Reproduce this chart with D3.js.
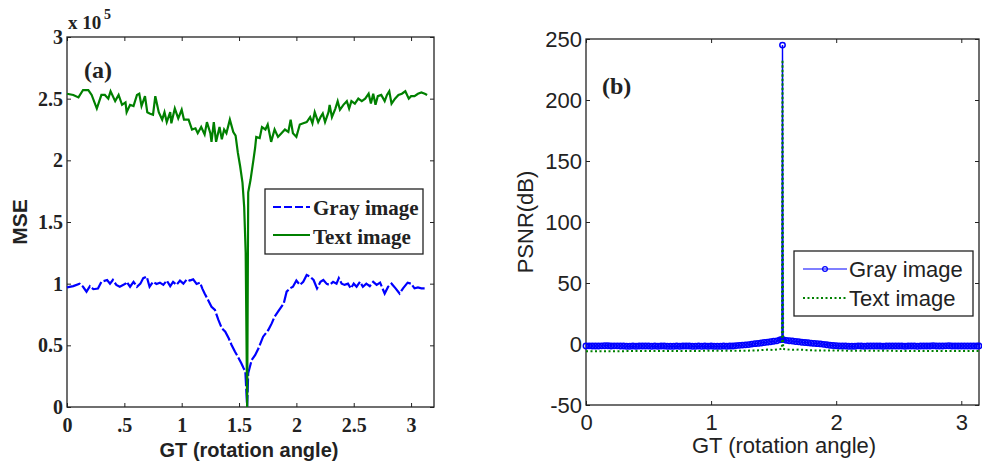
<!DOCTYPE html>
<html>
<head>
<meta charset="utf-8">
<script src="https://cdn.jsdelivr.net/npm/d3@7"></script>
<style>
  body { margin: 0; background: #fff; }
  .serif { font-family: "Liberation Serif", "Times New Roman", serif; font-weight: bold; }
  .sans { font-family: "Liberation Sans", Arial, sans-serif; }
</style>
</head>
<body>
<script>
var width = 982;
var height = 470;

// (a) MSE values, x in radians, y in units of 1e5
var textX = [0.00,0.055,0.10,0.14,0.186,0.215,0.26,0.30,0.33,0.36,0.38,0.42,0.45,0.48,0.51,0.52,0.55,0.58,0.61,0.63,
  0.65,0.68,0.70,0.72,0.75,0.77,0.80,0.83,0.85,0.87,0.90,0.91,0.94,0.97,1.00,1.02,1.06,1.09,1.12,1.14,
  1.17,1.20,1.22,1.25,1.26,1.28,1.30,1.33,1.35,1.37,1.39,1.42,1.45,1.47,1.49,1.51,1.53,1.545,1.558,1.5708,
  1.58,1.60,1.625,1.64,1.65,1.68,1.70,1.73,1.75,1.78,1.81,1.84,1.87,1.90,1.93,1.95,1.97,2.00,2.03,2.06,
  2.09,2.12,2.14,2.16,2.19,2.21,2.23,2.25,2.28,2.29,2.31,2.34,2.36,2.38,2.41,2.44,2.46,2.48,2.51,2.54,
  2.57,2.60,2.63,2.65,2.67,2.69,2.71,2.74,2.77,2.79,2.81,2.83,2.86,2.89,2.92,2.95,2.98,3.00,3.03,3.06,
  3.09,3.12,3.14];
var textMSE = [2.54,2.53,2.51,2.57,2.57,2.53,2.42,2.53,2.53,2.50,2.56,2.48,2.53,2.45,2.47,2.39,2.45,2.44,2.53,2.54,
  2.44,2.52,2.39,2.38,2.37,2.52,2.39,2.33,2.39,2.31,2.39,2.30,2.42,2.34,2.41,2.33,2.33,2.25,2.26,2.22,
  2.27,2.21,2.31,2.22,2.15,2.31,2.15,2.27,2.17,2.25,2.22,2.33,2.23,2.20,2.06,1.95,1.82,1.62,1.25,0,
  1.74,1.84,2.00,2.10,2.19,2.18,2.27,2.25,2.29,2.15,2.25,2.19,2.22,2.25,2.23,2.33,2.22,2.19,2.29,2.30,
  2.31,2.35,2.30,2.39,2.31,2.35,2.38,2.31,2.39,2.45,2.35,2.42,2.48,2.41,2.45,2.48,2.42,2.48,2.46,2.50,
  2.48,2.50,2.54,2.46,2.54,2.45,2.52,2.53,2.48,2.53,2.56,2.46,2.50,2.53,2.54,2.56,2.50,2.52,2.52,2.54,
  2.55,2.54,2.53];

var grayX = [0.00,0.055,0.11,0.14,0.17,0.20,0.23,0.27,0.30,0.35,0.375,0.40,0.43,0.46,0.51,0.52,0.55,0.58,0.61,0.64,
  0.665,0.695,0.72,0.75,0.78,0.81,0.84,0.87,0.90,0.925,0.955,0.985,1.015,1.045,1.07,1.10,1.13,1.16,1.18,1.20,
  1.23,1.26,1.29,1.32,1.35,1.38,1.41,1.435,1.465,1.49,1.52,1.54,1.555,1.5708,1.58,1.61,1.64,1.67,1.71,1.755,
  1.785,1.81,1.84,1.89,1.915,1.945,1.97,2.00,2.03,2.06,2.09,2.12,2.15,2.18,2.21,2.235,2.265,2.29,2.32,2.35,
  2.37,2.395,2.42,2.45,2.475,2.50,2.525,2.555,2.58,2.61,2.64,2.67,2.70,2.73,2.77,2.80,2.83,2.865,2.90,2.93,
  2.97,3.00,3.03,3.06,3.09,3.14];
var grayMSE = [0.97,0.98,1.00,0.975,0.935,0.98,0.955,0.96,1.015,1.03,1.00,1.03,0.99,0.975,1.00,1.015,0.975,1.015,0.975,1.00,
  1.045,1.057,0.975,1.015,0.998,1.008,0.99,1.025,0.98,1.015,0.99,1.025,1.00,1.035,1.025,1.035,0.998,1.008,0.96,0.92,
  0.868,0.813,0.787,0.706,0.638,0.611,0.557,0.503,0.448,0.408,0.354,0.314,0.29,0,0.273,0.381,0.42,0.476,0.57,0.624,
  0.678,0.732,0.773,0.841,0.935,0.962,0.975,1.025,0.99,1.015,1.07,1.057,1.03,0.962,1.015,1.03,0.998,0.99,1.015,1.00,
  1.045,1.00,0.99,1.00,0.962,1.00,0.975,1.015,0.975,1.00,0.98,1.015,0.99,1.008,0.92,0.975,1.00,0.962,0.92,0.962,
  1.008,1.00,0.962,0.97,0.962,0.962];

// (b) PSNR values in dB
var psnrGrayX = [0,0.025,0.05,0.075,0.1,0.125,0.15,0.175,0.2,0.225,0.25,0.275,0.3,0.325,0.35,0.375,0.4,0.425,0.45,0.475,
  0.5,0.525,0.55,0.575,0.6,0.625,0.65,0.675,0.7,0.725,0.75,0.775,0.8,0.825,0.85,0.875,0.9,0.925,0.95,0.975,
  1.0,1.025,1.05,1.075,1.1,1.125,1.15,1.175,1.2,1.225,1.25,1.275,1.3,1.325,1.35,1.375,1.4,1.425,1.45,1.475,
  1.5,1.525,1.55,1.566,1.5708,1.576,1.6,1.625,1.65,1.675,1.7,1.725,1.75,1.775,1.8,1.825,1.85,1.875,1.9,1.925,1.95,
  1.975,2.0,2.025,2.05,2.075,2.1,2.125,2.15,2.175,2.2,2.225,2.25,2.275,2.3,2.325,2.35,2.375,2.4,2.425,2.45,
  2.475,2.5,2.525,2.55,2.575,2.6,2.625,2.65,2.675,2.7,2.725,2.75,2.775,2.8,2.825,2.85,2.875,2.9,2.925,2.95,
  2.975,3.0,3.025,3.05,3.075,3.1,3.125,3.1416];
var psnrGray = [-1.6,-1.5,-1.6,-1.7,-1.6,-1.5,-1.4,-1.4,-1.6,-1.5,-1.5,-1.6,-1.7,-1.8,-1.8,-1.7,-1.8,-1.7,-1.6,-1.7,
  -1.7,-1.8,-1.6,-1.8,-1.7,-1.7,-1.8,-1.9,-1.9,-1.6,-1.8,-1.7,-1.7,-1.7,-1.8,-1.8,-1.7,-1.8,-1.7,-1.8,
  -1.7,-1.8,-1.8,-1.8,-1.7,-1.8,-1.7,-1.6,-1.3,-1.1,-0.9,-0.7,-0.5,-0.1,0.3,0.5,0.8,1.2,1.5,1.9,
  2.2,2.6,3.4,3.8,245,3.6,3.0,2.7,2.4,2.0,1.8,1.4,1.2,1.0,0.7,0.5,0.3,0.1,-0.3,-0.6,-1.0,
  -1.2,-1.4,-1.6,-1.7,-1.7,-1.9,-1.9,-1.8,-1.5,-1.7,-1.8,-1.7,-1.7,-1.7,-1.6,-1.7,-1.8,-1.7,-1.7,-1.7,
  -1.6,-1.7,-1.6,-1.8,-1.6,-1.7,-1.7,-1.8,-1.7,-1.7,-1.6,-1.6,-1.4,-1.6,-1.7,-1.6,-1.5,-1.4,-1.6,-1.7,
  -1.7,-1.7,-1.6,-1.6,-1.6,-1.6,-1.6,-1.6];

var psnrTextX = [0,0.2,0.4,0.6,0.8,1.0,1.2,1.35,1.45,1.5,1.55,1.566,1.5708,1.576,1.59,1.65,1.7,1.8,1.9,2.0,2.2,2.4,2.6,2.8,3.0,3.1416];
var psnrText = [-5.9,-5.9,-5.8,-5.8,-5.7,-5.6,-5.5,-5.4,-4.6,-4.9,-4.2,-3.8,233,-3.9,-4.3,-4.8,-4.6,-5.2,-5.3,-5.4,-5.5,-5.6,-5.7,-5.8,-5.8,-5.8];

// tick values
var ticksAx = [0, 0.5, 1, 1.5, 2, 2.5, 3];
var tickLabelsAx = ['0', '.5', '1', '1.5', '2', '2.5', '3'];
var ticksAy = [0, 0.5, 1, 1.5, 2, 2.5, 3];
var tickLabelsAy = ['0', '0.5', '1', '1.5', '2', '2.5', '3'];
var ticksBx = [0, 1, 2, 3];
var ticksBy = [-50, 0, 50, 100, 150, 200, 250];

var seriesNames = ['Gray image', 'Text image'];
var blue = '#0000ff';
var green = '#008000';

var svg = d3.select('body')
  .append('svg')
  .attr('width', width)
  .attr('height', height);

// scales
var xA = d3.scaleLinear().domain([0, 3.2]).range([67, 434]);
var yA = d3.scaleLinear().domain([0, 3]).range([407, 37]);
var xB = d3.scaleLinear().domain([0, Math.PI]).range([586, 979]);
var yB = d3.scaleLinear().domain([-50, 250]).range([405, 39]);

// matlab style box with ticks pointing inwards on all sides
function drawAxes(x, y, xt, xl, yt, yl, cls, fontSize, xPad) {
  var x0 = x.range()[0], x1 = x.range()[1];
  var y0 = y.range()[1], y1 = y.range()[0];
  var g = svg.append('g');

  g.append('g')
    .attr('transform', 'translate(0,' + y1 + ')')
    .call(d3.axisBottom(x).tickValues(xt).tickSizeInner(-4).tickSizeOuter(0).tickPadding(xPad)
      .tickFormat(function(d, i) { return xl ? xl[i] : d; }));
  g.append('g')
    .attr('transform', 'translate(' + x0 + ',0)')
    .call(d3.axisLeft(y).tickValues(yt).tickSizeInner(-4).tickSizeOuter(0).tickPadding(4)
      .tickFormat(function(d, i) { return yl ? yl[i] : d; }));
  g.append('g')
    .attr('transform', 'translate(0,' + y0 + ')')
    .call(d3.axisTop(x).tickValues(xt).tickSizeInner(-4).tickSizeOuter(0).tickFormat(''));
  g.append('g')
    .attr('transform', 'translate(' + x1 + ',0)')
    .call(d3.axisRight(y).tickValues(yt).tickSizeInner(-4).tickSizeOuter(0).tickFormat(''));

  g.selectAll('.domain').remove();
  g.selectAll('.tick line').attr('stroke', '#222');
  g.selectAll('.tick text')
    .attr('class', cls)
    .attr('fill', '#222')
    .style('font-size', fontSize + 'px');

  g.append('rect')
    .attr('x', x0).attr('y', y0)
    .attr('width', x1 - x0).attr('height', y1 - y0)
    .attr('fill', 'none')
    .attr('stroke', '#222')
    .attr('stroke-width', 1.3);
}

drawAxes(xA, yA, ticksAx, tickLabelsAx, ticksAy, tickLabelsAy, 'serif', 20, 11);
drawAxes(xB, yB, ticksBx, null, ticksBy, null, 'sans', 22, 9);

// (a) lines
var lineA = d3.line().x(function(d) { return xA(d[0]); }).y(function(d) { return yA(d[1]); });

svg.append('path')
  .datum(d3.zip(grayX, grayMSE))
  .attr('d', lineA)
  .attr('fill', 'none')
  .attr('stroke', blue)
  .attr('stroke-width', 2.2)
  .attr('stroke-dasharray', '14,2.5');

svg.append('path')
  .datum(d3.zip(textX, textMSE))
  .attr('d', lineA)
  .attr('fill', 'none')
  .attr('stroke', green)
  .attr('stroke-width', 2.2);

// (b) lines
var lineB = d3.line().x(function(d) { return xB(d[0]); }).y(function(d) { return yB(d[1]); });

svg.append('path')
  .datum(d3.zip(psnrGrayX, psnrGray))
  .attr('d', lineB)
  .attr('fill', 'none')
  .attr('stroke', blue)
  .attr('stroke-width', 1.4);

svg.append('g')
  .selectAll('circle')
  .data(d3.zip(psnrGrayX, psnrGray))
  .enter()
  .append('circle')
  .attr('cx', function(d) { return xB(d[0]); })
  .attr('cy', function(d) { return yB(d[1]); })
  .attr('r', 2.7)
  .attr('fill', 'none')
  .attr('stroke', blue)
  .attr('stroke-width', 1.5);

svg.append('path')
  .datum(d3.zip(psnrTextX, psnrText))
  .attr('d', lineB)
  .attr('fill', 'none')
  .attr('stroke', green)
  .attr('stroke-width', 2)
  .attr('stroke-dasharray', '2,2.5');

// axis titles and labels
svg.append('text').attr('class', 'serif').attr('x', 68).attr('y', 29)
  .style('font-size', '19px').attr('fill', '#222').text('x 10');
svg.append('text').attr('class', 'serif').attr('x', 104).attr('y', 19)
  .style('font-size', '14px').attr('fill', '#222').text('5');

svg.append('text').attr('class', 'serif').attr('x', 84).attr('y', 78)
  .style('font-size', '24px').attr('fill', '#222').text('(a)');
svg.append('text').attr('class', 'serif').attr('x', 602).attr('y', 94)
  .style('font-size', '24px').attr('fill', '#222').text('(b)');

svg.append('text').attr('class', 'sans')
  .attr('transform', 'translate(27,222) rotate(-90)')
  .attr('text-anchor', 'middle')
  .style('font-size', '21px').style('font-weight', 'bold').attr('fill', '#222')
  .text('MSE');
svg.append('text').attr('class', 'sans')
  .attr('x', 249).attr('y', 457)
  .attr('text-anchor', 'middle')
  .style('font-size', '20px').style('font-weight', 'bold').attr('fill', '#222')
  .text('GT (rotation angle)');

svg.append('text').attr('class', 'sans')
  .attr('transform', 'translate(533,222) rotate(-90)')
  .attr('text-anchor', 'middle')
  .style('font-size', '22px').attr('fill', '#222')
  .text('PSNR(dB)');
svg.append('text').attr('class', 'sans')
  .attr('x', 784).attr('y', 453)
  .attr('text-anchor', 'middle')
  .style('font-size', '22px').attr('fill', '#222')
  .text('GT (rotation angle)');

// legend (a)
var legA = svg.append('g');
legA.append('rect').attr('x', 265).attr('y', 189).attr('width', 158).attr('height', 65)
  .attr('fill', '#fff').attr('stroke', '#222').attr('stroke-width', 1.3);
legA.append('line').attr('x1', 273).attr('x2', 310).attr('y1', 207).attr('y2', 207)
  .attr('stroke', blue).attr('stroke-width', 2).attr('stroke-dasharray', '8,3');
legA.append('line').attr('x1', 273).attr('x2', 310).attr('y1', 235).attr('y2', 235)
  .attr('stroke', green).attr('stroke-width', 2);
legA.selectAll('text')
  .data(seriesNames)
  .enter().append('text')
  .attr('class', 'serif')
  .attr('x', 313)
  .attr('y', function(d, i) { return 215 + i * 29; })
  .style('font-size', '21px').attr('fill', '#222')
  .text(function(d) { return d; });

// legend (b)
var legB = svg.append('g');
legB.append('rect').attr('x', 794).attr('y', 251).attr('width', 179).attr('height', 65)
  .attr('fill', '#fff').attr('stroke', '#222').attr('stroke-width', 1.3);
legB.append('line').attr('x1', 803).attr('x2', 847).attr('y1', 269).attr('y2', 269)
  .attr('stroke', blue).attr('stroke-width', 1.2);
legB.append('circle').attr('cx', 825).attr('cy', 269).attr('r', 2.4)
  .attr('fill', 'none').attr('stroke', blue).attr('stroke-width', 1.2);
legB.append('line').attr('x1', 803).attr('x2', 847).attr('y1', 298).attr('y2', 298)
  .attr('stroke', green).attr('stroke-width', 2).attr('stroke-dasharray', '2,2.5');
legB.selectAll('text')
  .data(seriesNames)
  .enter().append('text')
  .attr('class', 'sans')
  .attr('x', 849)
  .attr('y', function(d, i) { return 277 + i * 29; })
  .style('font-size', '22px').attr('fill', '#222')
  .text(function(d) { return d; });
</script>
</body>
</html>
